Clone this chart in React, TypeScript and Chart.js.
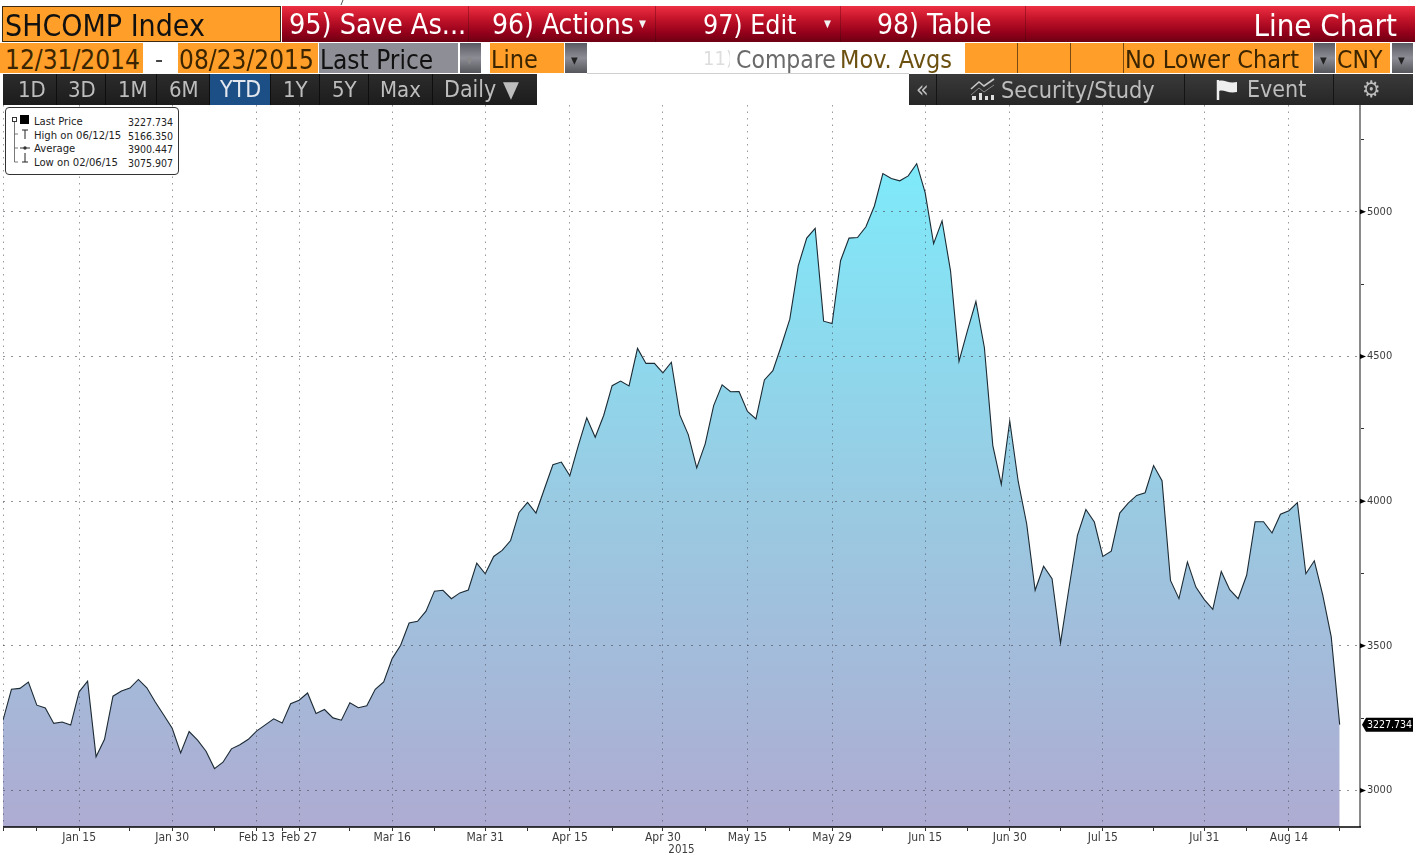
import React, { useEffect, useRef } from "react";
import { Chart, registerables } from "chart.js";

Chart.register(...registerables);

const lastPrices = [
  3243, 3350, 3353, 3375, 3295, 3285, 3232, 3237, 3226, 3341, 3378, 3117, 3177, 3326, 3344, 3354, 3384, 3355, 3306, 3261,
  3215, 3130, 3204, 3174, 3136, 3075.907, 3098, 3144, 3158, 3177, 3206, 3227, 3248, 3233, 3300, 3312, 3337, 3266, 3280, 3251,
  3243, 3303, 3286, 3293, 3350, 3375, 3456, 3502, 3579, 3585, 3620, 3689, 3692, 3663, 3683, 3693, 3786, 3749, 3809, 3830,
  3864, 3961, 3996, 3959, 4043, 4126, 4135, 4088, 4192, 4288, 4221, 4296, 4399, 4415, 4398, 4528, 4476, 4476, 4443, 4480,
  4298, 4230, 4115, 4198, 4330, 4402, 4378, 4379, 4310, 4284, 4419, 4451, 4537, 4629, 4813, 4909, 4943, 4622, 4614, 4831,
  4909, 4911, 4948, 5020, 5132, 5115, 5107, 5124, 5166.35, 5066, 4890, 4969, 4796, 4483, 4589, 4690, 4531, 4192, 4058, 4277,
  4068, 3922, 3692, 3775, 3732, 3510, 3699, 3882, 3971, 3928, 3809, 3827, 3959, 3993, 4020, 4029, 4123, 4071, 3726, 3663,
  3790, 3703, 3660, 3626, 3757, 3694, 3663, 3744, 3929, 3929, 3890, 3955, 3967, 3995, 3749, 3794, 3675, 3531, 3227.734,
];
const majorTickIndex = [0, 9, 20, 30, 35, 46, 57, 67, 78, 88, 98, 109, 119, 130, 142, 152];
const majorTickLabels = ["", "Jan 15", "Jan 30", "Feb 13", "Feb 27", "Mar 16", "Mar 31", "Apr 15", "Apr 30", "May 15", "May 29", "Jun 15", "Jun 30", "Jul 15", "Jul 31", "Aug 14"];
const minorTickIndex = [4, 15, 25, 33, 41, 51, 62, 72, 83, 93, 104, 114, 125, 136, 147, 158];
const yearLabel = "2015";
const yMajor = [3000, 3500, 4000, 4500, 5000];
const yMinor = [3250, 3750, 4250, 4750, 5250];

const ORANGE = "#FF9E28";
const COND = '"DejaVu Sans Condensed", "DejaVu Sans", sans-serif';

type Box = { x: number; y: number; w: number; h: number; bg: string; text?: string; color?: string; size?: number; align?: string; pad?: number; border?: string };

const redGrad = "linear-gradient(#EE2F42 0%, #C4142A 35%, #93001A 75%, #6E0012 100%)";
const greyDrop = "linear-gradient(#5a5a62, #8d8d95 50%, #55555c)";
const darkBar = "linear-gradient(#2c2c2c, #1c1c1c)";
const darkBar2 = "linear-gradient(#3a3a3a, #262626)";
const TXT3 = "#bdbdbd";

const boxes: Box[] = [
  { x: 282, y: 6, w: 1133, h: 36, bg: "linear-gradient(#B8182A, #5a000e)" },
  { x: 3, y: 74, w: 534, h: 31, bg: "#0e0e0e" },
  { x: 909, y: 74, w: 504, h: 31, bg: "#141414" },
  { x: 965, y: 43, w: 348, h: 30, bg: "#7a4a10" },
  { x: 587, y: 73, w: 322, h: 1, bg: "#cfcfcf" },

  { x: 2, y: 6, w: 279, h: 36, bg: ORANGE, text: "SHCOMP Index", color: "#111", size: 30, pad: 2, border: "1px solid #3a2a10" },
  { x: 282, y: 6, w: 186, h: 36, bg: redGrad, text: "95) Save As...", color: "#fff", size: 28.5, pad: 7 },
  { x: 469, y: 6, w: 186, h: 36, bg: redGrad, text: "96) Actions", color: "#fff", size: 28, pad: 23 },
  { x: 656, y: 6, w: 184, h: 36, bg: redGrad, text: "97) Edit", color: "#fff", size: 26.5, pad: 47 },
  { x: 841, y: 6, w: 184, h: 36, bg: redGrad, text: "98) Table", color: "#fff", size: 28, pad: 36 },
  { x: 1026, y: 6, w: 389, h: 36, bg: redGrad, text: "Line Chart", color: "#fff", size: 31, align: "right", pad: 18 },

  { x: 0, y: 43, w: 143, h: 30, bg: ORANGE, text: "12/31/2014", color: "#3a2500", size: 26, pad: 5 },
  { x: 144, y: 43, w: 34, h: 30, bg: "#fff", text: "-", color: "#444", size: 25, pad: 11 },
  { x: 178, y: 43, w: 140, h: 30, bg: ORANGE, text: "08/23/2015", color: "#3a2500", size: 26, pad: 1 },
  { x: 319, y: 43, w: 139, h: 30, bg: "#8E8E96", text: "Last Price", color: "#111", size: 26, pad: 1 },
  { x: 460, y: 43, w: 21, h: 30, bg: greyDrop, text: "▾", color: "#888", size: 15, pad: 6 },
  { x: 490, y: 43, w: 74, h: 30, bg: ORANGE, text: "Line", color: "#3a2500", size: 25, pad: 1 },
  { x: 565, y: 43, w: 22, h: 30, bg: greyDrop, text: "▾", color: "#222", size: 15, pad: 6 },
  { x: 700, y: 45, w: 30, h: 26, bg: "#fff", text: "11)", color: "#ddd", size: 20, pad: 3 },
  { x: 736, y: 43, w: 100, h: 30, bg: "#fff", text: "Compare", color: "#6a6a6a", size: 24.5, pad: 0 },
  { x: 840, y: 43, w: 125, h: 30, bg: "#fff", text: "Mov. Avgs", color: "#6b5010", size: 25, pad: 0 },
  { x: 965, y: 43, w: 52, h: 30, bg: ORANGE },
  { x: 1018, y: 43, w: 52, h: 30, bg: ORANGE },
  { x: 1071, y: 43, w: 52, h: 30, bg: ORANGE },
  { x: 1124, y: 43, w: 189, h: 30, bg: ORANGE, text: "No Lower Chart", color: "#3a2500", size: 25, pad: 1 },
  { x: 1314, y: 43, w: 21, h: 30, bg: greyDrop, text: "▾", color: "#222", size: 15, pad: 6 },
  { x: 1336, y: 43, w: 54, h: 30, bg: ORANGE, text: "CNY", color: "#3a2500", size: 24.5, pad: 1 },
  { x: 1392, y: 43, w: 21, h: 30, bg: greyDrop, text: "▾", color: "#222", size: 15, pad: 6 },

  { x: 3, y: 74, w: 53, h: 31, bg: darkBar, text: "1D", color: TXT3, size: 22, pad: 15 },
  { x: 57, y: 74, w: 48, h: 31, bg: darkBar, text: "3D", color: TXT3, size: 22, pad: 11 },
  { x: 106, y: 74, w: 50, h: 31, bg: darkBar, text: "1M", color: TXT3, size: 22, pad: 12 },
  { x: 157, y: 74, w: 52, h: 31, bg: darkBar, text: "6M", color: TXT3, size: 22, pad: 12 },
  { x: 210, y: 74, w: 60, h: 31, bg: "#1C4F86", text: "YTD", color: "#e4e8ee", size: 23, pad: 10 },
  { x: 271, y: 74, w: 48, h: 31, bg: darkBar, text: "1Y", color: TXT3, size: 22, pad: 12 },
  { x: 320, y: 74, w: 48, h: 31, bg: darkBar, text: "5Y", color: TXT3, size: 22, pad: 12 },
  { x: 369, y: 74, w: 63, h: 31, bg: darkBar, text: "Max", color: TXT3, size: 22, pad: 11 },
  { x: 433, y: 74, w: 104, h: 31, bg: darkBar, text: "Daily ▼", color: TXT3, size: 23, pad: 11 },

  { x: 909, y: 74, w: 27, h: 31, bg: darkBar2, text: "«", color: TXT3, size: 23, pad: 7 },
  { x: 937, y: 74, w: 247, h: 31, bg: darkBar2, text: "Security/Study", color: TXT3, size: 23.3, pad: 64 },
  { x: 1185, y: 74, w: 148, h: 31, bg: darkBar2, text: "Event", color: TXT3, size: 23, pad: 62 },
  { x: 1334, y: 74, w: 79, h: 31, bg: darkBar2, text: "⚙", color: TXT3, size: 23, pad: 28 },
];

const legendRows = [
  ["Last Price", "3227.734"],
  ["High on 06/12/15", "5166.350"],
  ["Average", "3900.447"],
  ["Low on 02/06/15", "3075.907"],
];

const lastTagPlugin = {
  id: "lastTag",
  afterDraw(chart: any) {
    const { ctx, scales } = chart;
    const v = lastPrices[lastPrices.length - 1];
    const y = scales.y.getPixelForValue(v);
    const right = scales.x.right;
    const bottom = scales.y.bottom;
    ctx.save();
    ctx.setLineDash([]);
    // axis lines
    ctx.strokeStyle = "#8a8a8a";
    ctx.lineWidth = 2;
    ctx.beginPath();
    ctx.moveTo(right, scales.y.top);
    ctx.lineTo(right, bottom);
    ctx.stroke();
    ctx.strokeStyle = "#000";
    ctx.lineWidth = 1.5;
    ctx.beginPath();
    ctx.moveTo(scales.x.left, bottom);
    ctx.lineTo(right + 1, bottom);
    ctx.stroke();
    // last price tag
    const x = right + 2;
    ctx.fillStyle = "#000";
    ctx.beginPath();
    ctx.moveTo(x, y);
    ctx.lineTo(x + 4, y - 7);
    ctx.lineTo(1413, y - 7);
    ctx.lineTo(1413, y + 7);
    ctx.lineTo(x + 4, y + 7);
    ctx.closePath();
    ctx.fill();
    ctx.fillStyle = "#fff";
    ctx.font = `10.5px ${COND}`;
    ctx.textBaseline = "middle";
    ctx.textAlign = "left";
    ctx.fillText(v.toFixed(3), x + 5, y + 0.5);
    // arrow heads on the major y ticks
    ctx.fillStyle = "#000";
    for (const t of yMajor) {
      const py = scales.y.getPixelForValue(t);
      ctx.beginPath();
      ctx.moveTo(right, py - 2.5);
      ctx.lineTo(right + 6, py);
      ctx.lineTo(right, py + 2.5);
      ctx.closePath();
      ctx.fill();
    }
    ctx.restore();
  },
};

export default function App() {
  const ref = useRef<HTMLCanvasElement>(null);
  useEffect(() => {
    const isMajorX = (v: number) => majorTickIndex.includes(v);
    const chart = new Chart(ref.current!, {
      type: "line",
      data: {
        datasets: [
          {
            data: lastPrices.map((y, x) => ({ x, y })),
            borderColor: "#1b2a33",
            borderWidth: 1.1,
            pointRadius: 0,
            tension: 0,
            fill: "start",
            backgroundColor: (c: any) => {
              const a = c.chart.chartArea;
              if (!a) return "#9cc";
              const g = c.chart.ctx.createLinearGradient(0, 165, 0, a.bottom);
              g.addColorStop(0, "#7EEAFA");
              g.addColorStop(0.5, "#99CBE3");
              g.addColorStop(1, "#AEABD1");
              return g;
            },
          },
        ],
      },
      plugins: [lastTagPlugin],
      options: {
        animation: false,
        responsive: false,
        layout: { padding: { left: 3, top: 105, right: 0, bottom: 0 } },
        plugins: { legend: { display: false }, tooltip: { enabled: false } },
        scales: {
          x: {
            type: "linear",
            min: 0,
            max: 160.4,
            afterBuildTicks: (s: any) => {
              s.ticks = [...majorTickIndex, ...minorTickIndex].sort((a, b) => a - b).map((value) => ({ value }));
            },
            afterFit: (s: any) => {
              s.height = 28;
            },
            ticks: {
              autoSkip: false,
              maxRotation: 0,
              padding: 0,
              color: "#3c3c3c",
              font: { family: "DejaVu Sans Condensed", size: 12 },
              callback: (v: any) => {
                const i = majorTickIndex.indexOf(v);
                return i >= 0 ? majorTickLabels[i] : "";
              },
            },
            title: { display: true, text: yearLabel, color: "#3c3c3c", font: { family: "DejaVu Sans Condensed", size: 11.5 }, padding: { top: 0, bottom: -2 } },
            grid: {
              z: 1,
              color: (c: any) => (isMajorX(c.tick?.value) ? "rgba(70,70,80,0.55)" : "rgba(0,0,0,0)"),
              tickColor: "#333",
              tickLength: 4,
              lineWidth: 1,
            },
            border: { color: "rgba(0,0,0,0)", width: 1, dash: [1.5, 5] },
          },
          y: {
            type: "linear",
            position: "right",
            min: 2874,
            max: 5369,
            afterBuildTicks: (s: any) => {
              s.ticks = [...yMajor, ...yMinor].sort((a, b) => a - b).map((value) => ({ value }));
            },
            afterFit: (s: any) => {
              s.width = 59;
            },
            ticks: {
              padding: 3,
              color: "#3c3c3c",
              font: { family: "DejaVu Sans Condensed", size: 11 },
              callback: (v: any) => (yMajor.includes(v) ? String(v) : ""),
            },
            grid: {
              z: 1,
              color: (c: any) => (yMajor.includes(c.tick?.value) ? "rgba(70,70,80,0.6)" : "rgba(0,0,0,0)"),
              tickColor: (c: any) => (yMajor.includes(c.tick?.value) ? "rgba(0,0,0,0)" : "#333"),
              tickLength: 4,
            },
            border: { color: "rgba(0,0,0,0)", width: 1, dash: [2, 6] },
          },
        },
      },
    } as any);
    return () => chart.destroy();
  }, []);

  return (
    <div style={{ position: "absolute", left: 0, top: 0, width: 1419, height: 855, overflow: "hidden", background: "#fff", fontFamily: COND }}>
      <canvas ref={ref} width={1419} height={855} style={{ position: "absolute", left: 0, top: 0, display: "block" }} />
      <svg width={10} height={6} style={{ position: "absolute", left: 338, top: 0 }}>
        <line x1={5} y1={0} x2={3} y2={5} stroke="#555" />
      </svg>
      {boxes.map((b, i) => (
        <div
          key={i}
          style={{
            position: "absolute",
            left: b.x,
            top: b.y,
            width: b.w,
            height: b.h,
            boxSizing: "border-box",
            background: b.bg,
            border: b.border,
            color: b.color,
            fontSize: b.size,
            lineHeight: `${b.h}px`,
            paddingTop: b.y === 43 ? 2 : b.y === 6 ? 1 : 0,
            textAlign: (b.align as any) || "left",
            paddingLeft: b.align === "right" ? 0 : b.pad,
            paddingRight: b.align === "right" ? b.pad : 0,
            whiteSpace: "nowrap",
            overflow: "hidden",
          }}
        >
          {b.text}
        </div>
      ))}
      <div style={{ position: "absolute", left: 636, top: 20, width: 13, height: 8, color: "#f2f2f2", fontSize: 10, lineHeight: "8px", textAlign: "center" }}>▼</div>
      <div style={{ position: "absolute", left: 821, top: 20, width: 13, height: 8, color: "#f2f2f2", fontSize: 10, lineHeight: "8px", textAlign: "center" }}>▼</div>
      <svg width={28} height={24} style={{ position: "absolute", left: 969, top: 78 }}>
        <path d="M2 11 L10 4 L15 8 L25 1" stroke="#c8c8c8" strokeWidth={1.6} fill="none" />
        <path d="M2 17 L10 10 L15 14 L25 7" stroke="#888" strokeWidth={1} fill="none" />
        <rect x={3} y={18} width={4} height={4} fill="#ddd" />
        <rect x={10} y={15} width={3} height={7} fill="#ddd" />
        <rect x={16} y={18} width={3} height={4} fill="#ddd" />
        <rect x={22} y={17} width={3} height={5} fill="#ddd" />
      </svg>
      <svg width={24} height={24} style={{ position: "absolute", left: 1216, top: 78 }}>
        <path d="M2 2 L2 22" stroke="#eee" strokeWidth={2.5} />
        <path d="M3 3 C8 1 12 6 21 4 L21 14 C12 16 8 11 3 13 Z" fill="#eee" />
      </svg>
      <div style={{ position: "absolute", left: 5, top: 107, width: 174, height: 68, boxSizing: "border-box", background: "#fff", border: "1px solid #333", borderRadius: 4 }} />
      <svg width={30} height={60} style={{ position: "absolute", left: 8, top: 112 }}>
        <rect x={4.5} y={5.5} width={4} height={4} fill="none" stroke="#333" />
        <rect x={12} y={3} width={9} height={9} fill="#000" />
        <path d="M6.5 10 V50 H10 M6.5 22 H10 M6.5 36 H10" stroke="#555" strokeWidth={0.8} fill="none" />
        <path d="M14 18 H20 M17 18 V27" stroke="#222" fill="none" />
        <path d="M12 36 H22" stroke="#333" />
        <circle cx={17} cy={36} r={1.7} fill="#333" />
        <path d="M14 50 H20 M17 41 V50" stroke="#222" fill="none" />
      </svg>
      {legendRows.map((r, i) => (
        <React.Fragment key={i}>
          <div style={{ position: "absolute", left: 34, top: 115 + i * 13.5, fontSize: 11.2, lineHeight: "14px", color: "#222", whiteSpace: "nowrap" }}>{r[0]}</div>
          <div style={{ position: "absolute", right: 1419 - 173, top: 115 + i * 13.5, fontSize: 10.5, lineHeight: "14px", color: "#222", whiteSpace: "nowrap" }}>{r[1]}</div>
        </React.Fragment>
      ))}
    </div>
  );
}
